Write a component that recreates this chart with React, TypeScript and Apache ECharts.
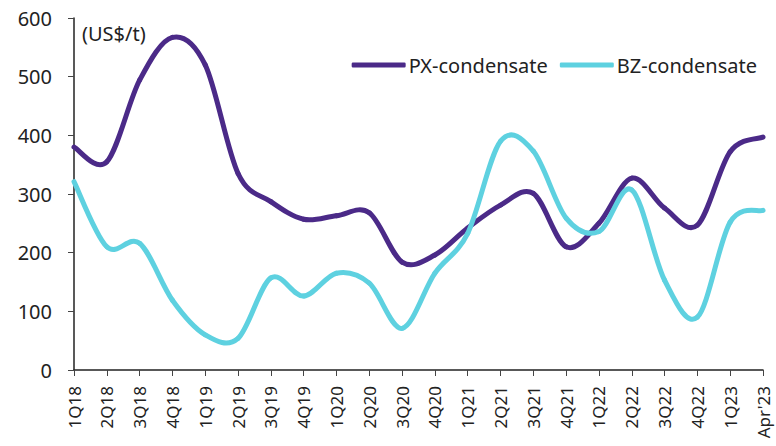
import React, { useEffect, useRef } from "react";
import * as echarts from "echarts";

const categories = ["1Q18","2Q18","3Q18","4Q18","1Q19","2Q19","3Q19","4Q19","1Q20","2Q20","3Q20","4Q20","1Q21","2Q21","3Q21","4Q21","1Q22","2Q22","3Q22","4Q22","1Q23","Apr'23"];
const pxCondensate = [380, 355, 494, 567, 520, 335, 287, 257, 263, 268, 184, 196, 242, 281, 301, 210, 250, 327, 276, 247, 372, 397];
const bzCondensate = [321, 210, 216, 119, 60, 54, 157, 126, 165, 148, 71, 165, 233, 390, 373, 259, 236, 307, 153, 90, 252, 272];
const yTicks = { min: 0, max: 600, interval: 100 };

const FONT = "'Noto Sans', sans-serif";
const TEXT = "#222222";
const PX_COLOR = "#4b2a88";
const BZ_COLOR = "#5ed1e0";

function smoothSeries(name: string, values: number[], color: string) {
  const n = values.length;
  return {
    name,
    type: "custom",
    data: values.map((v, i) => [i, v]),
    encode: { x: 0, y: 1 },
    itemStyle: { color },
    clip: false,
    renderItem: (params: any, api: any) => {
      const i = params.dataIndex;
      if (i >= n - 1) return { type: "group", children: [] };
      const pt = (k: number) => {
        const kk = Math.max(0, Math.min(n - 1, k));
        return api.coord([kk, values[kk]]);
      };
      const p0 = pt(i - 1);
      const p1 = pt(i);
      const p2 = pt(i + 1);
      const p3 = pt(i + 2);
      const t = 1 / 6;
      return {
        type: "bezierCurve",
        shape: {
          x1: p1[0],
          y1: p1[1],
          x2: p2[0],
          y2: p2[1],
          cpx1: p1[0] + (p2[0] - p0[0]) * t,
          cpy1: p1[1] + (p2[1] - p0[1]) * t,
          cpx2: p2[0] - (p3[0] - p1[0]) * t,
          cpy2: p2[1] - (p3[1] - p1[1]) * t,
        },
        style: { stroke: color, lineWidth: 5, fill: null, lineCap: "round", lineJoin: "round" },
      };
    },
  };
}

export default function App() {
  const ref = useRef<HTMLDivElement>(null);
  useEffect(() => {
    if (!ref.current) return;
    const chart = echarts.init(ref.current, null, { renderer: "svg" });
    chart.setOption({
      animation: false,
      textStyle: { fontFamily: FONT, color: TEXT },
      grid: { left: 74, right: 13, top: 18, bottom: 76, containLabel: false },
      legend: {
        right: 14,
        top: 50,
        itemWidth: 54,
        itemHeight: 5,
        itemGap: 12,
        icon: "roundRect",
        textStyle: { fontFamily: FONT, fontSize: 20, color: TEXT, padding: [0, 0, 0, -2] },
        data: [
          { name: "PX-condensate", itemStyle: { color: PX_COLOR } },
          { name: "BZ-condensate", itemStyle: { color: BZ_COLOR } },
        ],
      },
      graphic: [
        {
          type: "text",
          left: 82,
          top: 23,
          style: { text: "(US$/t)", font: `20px ${FONT}`, fill: TEXT },
        },
      ],
      xAxis: {
        type: "category",
        data: categories,
        boundaryGap: false,
        axisLine: { lineStyle: { color: "#222", width: 1.5 } },
        axisTick: { show: true, length: 6, lineStyle: { color: "#444" } },
        axisLabel: { rotate: 90, fontSize: 17, color: TEXT, margin: 16, interval: 0, fontFamily: FONT },
        splitLine: { show: false },
      },
      yAxis: {
        type: "value",
        min: yTicks.min,
        max: yTicks.max,
        interval: yTicks.interval,
        axisLine: { show: true, lineStyle: { color: "#222", width: 1.5 } },
        axisTick: { show: true, length: 6, lineStyle: { color: "#444" } },
        axisLabel: { fontSize: 20, color: TEXT, margin: 22, fontFamily: FONT },
        splitLine: { show: false },
      },
      series: [
        smoothSeries("PX-condensate", pxCondensate, PX_COLOR),
        smoothSeries("BZ-condensate", bzCondensate, BZ_COLOR),
      ],
    });
    return () => chart.dispose();
  }, []);
  return (
    <div
      ref={ref}
      style={{ position: "absolute", left: 0, top: 0, width: 776, height: 446 }}
    />
  );
}
